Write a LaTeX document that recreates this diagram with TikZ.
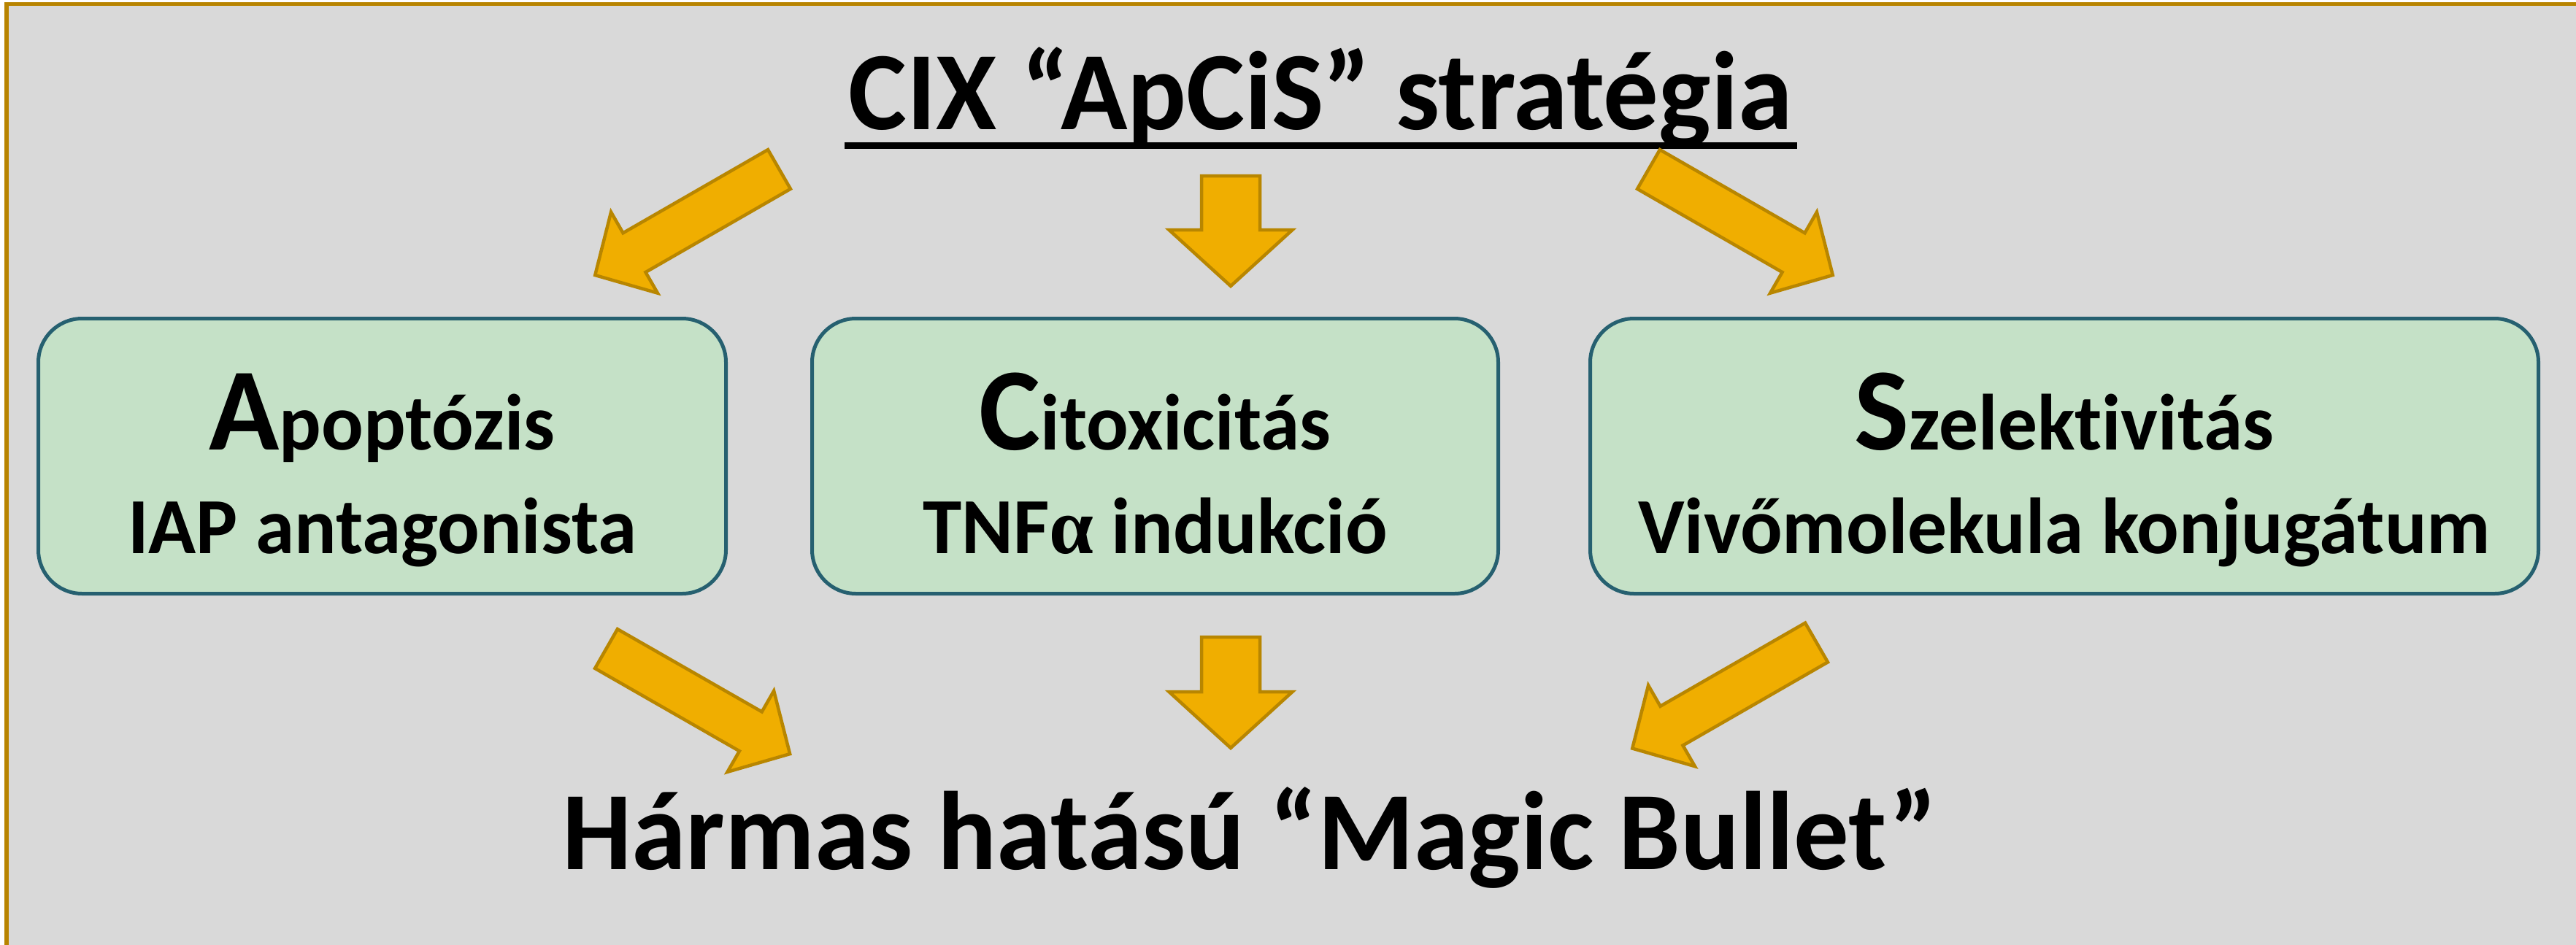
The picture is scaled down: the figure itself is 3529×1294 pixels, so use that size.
\documentclass[tikz,border=0pt]{standalone}
\usepackage{fontspec}
\setmainfont{Carlito}[Ligatures={NoCommon}, FakeStretch=0.986]
\newfontfamily\greekfont{Liberation Serif}
\definecolor{bgc}{RGB}{217,217,217}
\definecolor{framec}{RGB}{184,132,0}
\definecolor{arrowfill}{RGB}{240,174,0}
\definecolor{arrowline}{RGB}{184,134,0}
\definecolor{boxfill}{RGB}{197,225,199}
\definecolor{boxline}{RGB}{38,96,112}
\tikzset{
  arrowshape/.style={fill=arrowfill, draw=arrowline, line width=4.5pt, line join=miter},
  greenbox/.style={draw=boxline, fill=boxfill, line width=5pt, rounded corners=60pt,
    minimum height=377pt, inner sep=0pt, outer sep=0pt},
  bigtxt/.style={font=\bfseries\fontsize{153}{160}\selectfont, inner sep=0pt, anchor=base},
  boxtxt/.style={font=\bfseries\fontsize{109}{115}\selectfont, inner sep=0pt, anchor=base},
}
\newcommand\initial[1]{{\fontsize{161}{170}\selectfont #1}}
\newcommand\blockarrow[6]{%
  \draw[arrowshape, shift={#1}, rotate=#2]
    (0,{-#4/2}) -- ({#3-#6},{-#4/2}) -- ({#3-#6},{-#5/2}) -- (#3,0)
    -- ({#3-#6},{#5/2}) -- ({#3-#6},{#4/2}) -- (0,{#4/2}) -- cycle;}
\begin{document}
\begin{tikzpicture}[x=1pt,y=-1pt]
\useasboundingbox (0,0) rectangle (3529,1294);
% background frame
\fill[bgc] (9,5.5) rectangle (3560,1320);
\draw[framec, line width=5.5pt] (9,1320) -- (9,5.5) -- (3560,5.5);

% title
\node[bigtxt] (title) at (1809,177) {CIX “ApCiS” stratégia};
\draw[line width=9pt] ([xshift=-5pt,yshift=-22.5pt]title.base west) -- ([xshift=6pt,yshift=-22.5pt]title.base east);

% boxes
\node[greenbox, minimum width=942pt] (A) at (523.5,625) {};
\node[greenbox, minimum width=940pt] (C) at (1582.5,625) {};
\node[greenbox, minimum width=1299pt] (S) at (2828,625) {};

\node[boxtxt] (A1) at (523.5,616) {\initial{A}poptózis};
\node[boxtxt] (A2) at (523.5,758) {IAP antagonista};
\node[boxtxt] (C1) at (1582.5,616) {\initial{C}itoxicitás};
\node[boxtxt] (C2) at (1582.5,758) {TNF{\greekfont α} indukció};
\node[boxtxt] (S1) at (2828,616) {\initial{S}zelektivitás};
\node[boxtxt] (S2) at (2828,758) {Vivőmolekula konjugátum};

% bottom text
\node[bigtxt] (bottom) at (1712,1191) {Hármas hatású “Magic Bullet”};

% block arrows
\blockarrow{(1067.5,232)}{209.9}{291}{62}{128}{62}
\blockarrow{(1686,241)}{-90}{151}{80}{169}{77}
\blockarrow{(2258.5,232)}{-29.9}{291}{62}{128}{62}
\blockarrow{(830.5,889)}{-29.8}{290}{62}{128}{62}
\blockarrow{(1686,873)}{-90}{152}{80}{169}{77}
\blockarrow{(2488.5,880.5)}{209.9}{291}{62}{128}{62}
\end{tikzpicture}
\end{document}
